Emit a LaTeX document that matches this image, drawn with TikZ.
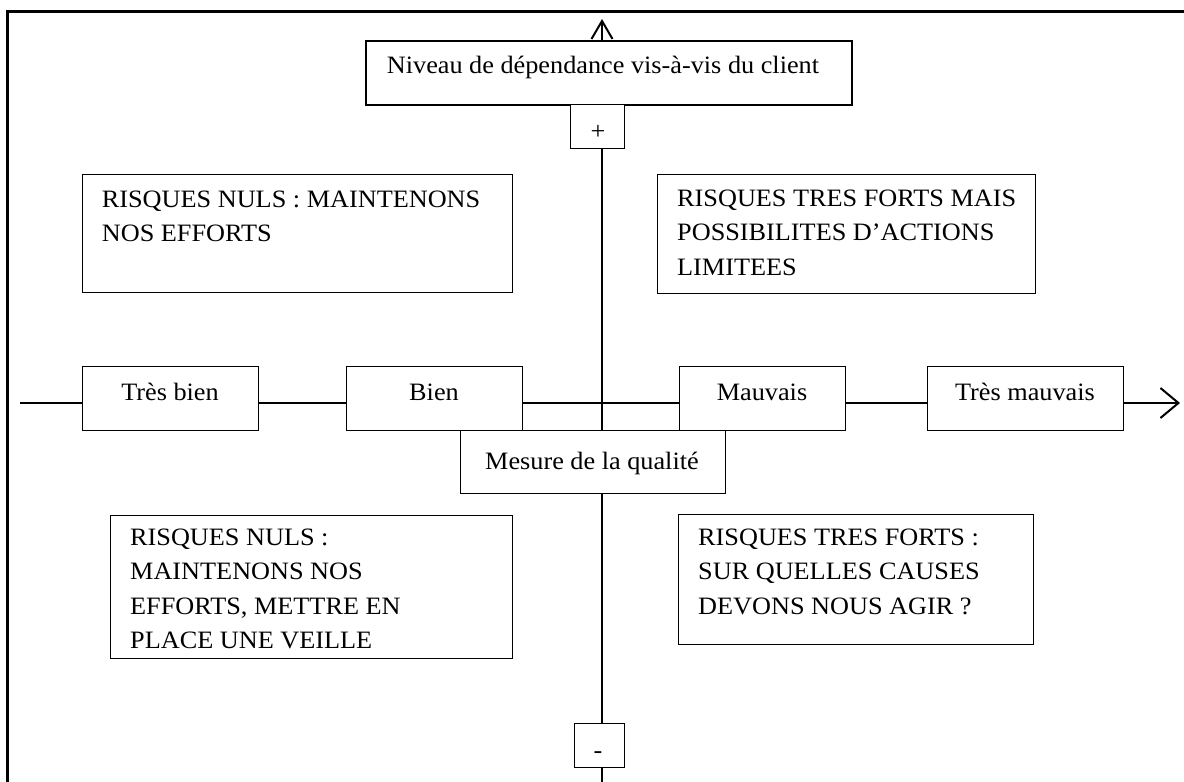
\documentclass[tikz,border=0pt]{standalone}
\usepackage{fontspec}
\setmainfont{Liberation Serif}[FakeStretch=1.05]
\usetikzlibrary{arrows.meta}
\begin{document}
\begin{tikzpicture}[x=1pt,y=-1pt,
  every node/.style={font=\fontsize{25}{34.5}\selectfont},
  box/.style={draw, line width=1pt, fill=white, inner sep=0pt, anchor=north west},
  axis/.style={line width=2pt},
  lbl/.style={inner sep=0pt, anchor=base},
  para/.style={inner sep=0pt, anchor=base west},
]
\useasboundingbox (0,0) rectangle (1184,782);
% frame
\draw[line width=2.5pt] (7.5,782) -- (7.5,11.7) -- (1184,11.7);

% named free ends
\coordinate (vtop) at (602,19);
\coordinate (vbot) at (602,782);
\coordinate (hstart) at (20,403);
\coordinate (hend) at (1180,403);

% quadrant boxes
\node[box, minimum width=430pt, minimum height=118pt] (tlbox) at (82,174) {};
\node[box, minimum width=378pt, minimum height=119pt] (trbox) at (657,174) {};
\node[box, minimum width=402pt, minimum height=143pt] (blbox) at (110,515) {};
\node[box, minimum width=355pt, minimum height=130pt] (brbox) at (678,514) {};

\node[para] (tlt) at (101.7,207) {\parbox[t]{420pt}{\raggedright RISQUES NULS : MAINTENONS\\NOS EFFORTS}};
\node[para] (trt) at (677,206) {\parbox[t]{360pt}{\raggedright RISQUES TRES FORTS MAIS\\POSSIBILITES D’ACTIONS\\LIMITEES}};
\node[para] (blt) at (130,545) {\parbox[t]{380pt}{\raggedright RISQUES NULS :\\MAINTENONS NOS\\EFFORTS, METTRE EN\\PLACE UNE VEILLE}};
\node[para] (brt) at (698,545) {\parbox[t]{330pt}{\raggedright RISQUES TRES FORTS :\\SUR QUELLES CAUSES\\DEVONS NOUS AGIR ?}};

% vertical axis boxes
\node[box, line width=2.2pt, minimum width=486pt, minimum height=64pt] (niveau) at (365,40) {};
\node[lbl] (niveaut) at (603,73) {Niveau de dépendance vis-à-vis du client};
\node[box, minimum width=54pt, minimum height=44pt] (plus) at (570,104) {};
\node[lbl] (plust) at (598,139.5) {+};
\node[box, minimum width=50pt, minimum height=44pt] (minus) at (574,723) {};
\node[lbl] (minust) at (598,758.5) {-};

% vertical axis
\draw[axis, -{Straight Barb[length=18pt,width=21pt]}] (vtop |- niveau.north) -- (vtop);
\draw[axis] (vtop |- plus.south) -- (vtop |- minus.north);
\draw[axis] (vtop |- minus.south) -- (vbot);

% horizontal axis boxes
\node[box, minimum width=176pt, minimum height=64pt] (tb) at (82,366) {};
\node[box, minimum width=176pt, minimum height=64pt] (bien) at (346,366) {};
\node[box, minimum width=166pt, minimum height=64pt] (mauv) at (679,366) {};
\node[box, minimum width=196pt, minimum height=64pt] (tm) at (927,366) {};
\node[lbl] (tbt) at (170,400) {Très bien};
\node[lbl] (bient) at (434,400) {Bien};
\node[lbl] (mauvt) at (762,400) {Mauvais};
\node[lbl] (tmt) at (1025,400) {Très mauvais};

% horizontal axis
\draw[axis] (hstart) -- (tb.west |- hstart);
\draw[axis] (tb.east |- hstart) -- (bien.west |- hstart);
\draw[axis] (bien.east |- hstart) -- (mauv.west |- hstart);
\draw[axis] (mauv.east |- hstart) -- (tm.west |- hstart);
\draw[axis, -{Straight Barb[length=18pt,width=30pt]}] (tm.east |- hstart) -- (hend);

% quality box
\node[box, minimum width=265pt, minimum height=63pt] (mesure) at (460,430) {};
\node[lbl] (mesuret) at (592,469) {Mesure de la qualité};
\end{tikzpicture}
\end{document}
